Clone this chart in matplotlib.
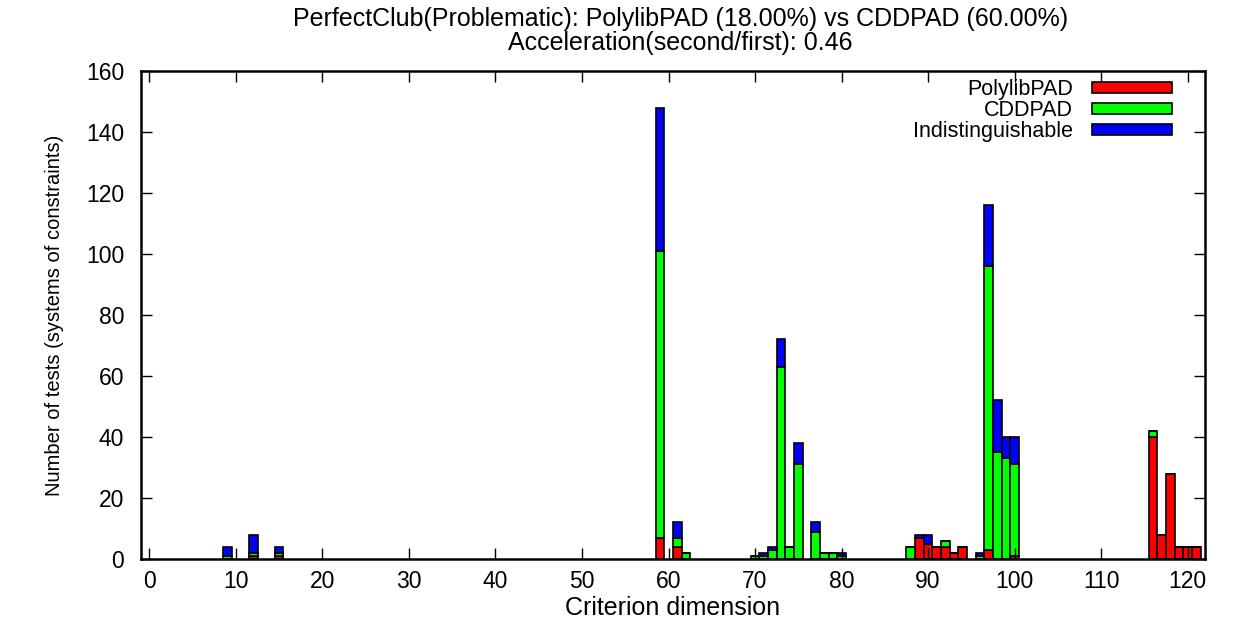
import matplotlib
matplotlib.use('Agg')
import matplotlib.pyplot as plt
import numpy as np

plt.rcParams['font.family'] = ['Liberation Sans', 'DejaVu Sans']

# -----------------------------
# Data
# -----------------------------
dims = [9, 12, 15, 59, 61, 62, 70, 71, 72, 73, 74, 75, 77, 78, 79, 80,
        88, 89, 90, 91, 92, 93, 94, 96, 97, 98, 99, 100,
        116, 117, 118, 119, 120, 121]
polylib = [0, 1, 1, 7, 4, 0, 0, 0, 0, 0, 0, 0, 0, 0, 0, 0,
           0, 7, 5, 4, 4, 2, 4, 0, 3, 0, 0, 1,
           40, 8, 28, 4, 4, 4]
cdd = [1, 1, 1, 94, 3, 2, 1, 1, 3, 63, 4, 31, 9, 2, 2, 1,
       4, 0, 0, 0, 2, 0, 0, 1, 93, 35, 33, 30,
       2, 0, 0, 0, 0, 0]
indist = [3, 6, 2, 47, 5, 0, 0, 1, 1, 9, 0, 7, 3, 0, 0, 1,
          0, 1, 3, 0, 0, 0, 0, 1, 20, 17, 7, 9,
          0, 0, 0, 0, 0, 0]

series_names = ['PolylibPAD', 'CDDPAD', 'Indistinguishable']
series_colors = ['#ff0000', '#00ff00', '#0000ff']
x_ticks = list(range(0, 121, 10))
y_ticks = list(range(0, 161, 20))

title = ("PerfectClub(Problematic): PolylibPAD (18.00%) vs CDDPAD (60.00%)\n"
         "Acceleration(second/first): 0.46")

# -----------------------------
# Plot
# -----------------------------
fig = plt.figure(figsize=(12.33, 6.18), dpi=100)
ax = fig.add_axes([0.1141, 0.0955, 0.8632, 0.7895])

x = np.array(dims)
bottom = np.zeros(len(dims))
for vals, name, col in zip([polylib, cdd, indist], series_names, series_colors):
    vals = np.array(vals, dtype=float)
    ax.bar(x, vals, width=1.0, bottom=bottom, color=col, edgecolor='black',
           linewidth=1.2, label=name)
    bottom += vals

ax.set_xlim(-1, 122)
ax.set_ylim(0, 160)
ax.set_xticks(x_ticks)
ax.set_yticks(y_ticks)
ax.tick_params(direction='in', length=8, width=1, top=True, right=True,
               labelsize=16.5)
ax.tick_params(axis='y', pad=12)
ax.tick_params(axis='x', pad=8)
for sp in ax.spines.values():
    sp.set_linewidth(1.8)

ax.set_xlabel('Criterion dimension', fontsize=18, labelpad=2)
ax.set_ylabel('Number of tests (systems of constraints)', fontsize=14.5,
              labelpad=16)

fig.text(0.552, 1 - 31 / 618, title, ha='center', va='center',
         fontsize=18, linespacing=0.95)

ax.legend(loc='upper right', bbox_to_anchor=(0.969, 0.9836), frameon=False,
          markerfirst=False, fontsize=15.5, handlelength=3.7, handleheight=0.45,
          handletextpad=0.9, labelspacing=0.0, borderpad=0, borderaxespad=0)

plt.savefig('out.png', dpi=100)
plt.close()
